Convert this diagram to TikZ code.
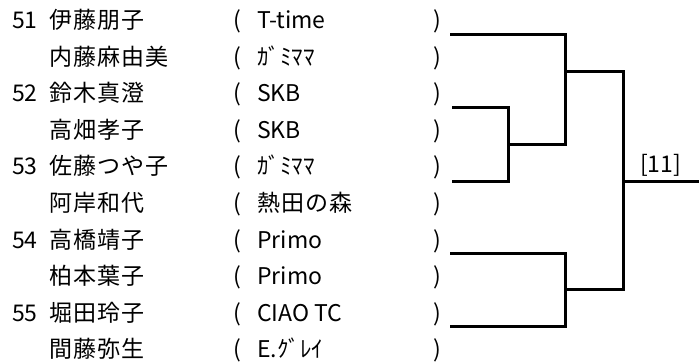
\documentclass[tikz,border=0pt]{standalone}
\usepackage{fontspec}
\setmainfont{Noto Sans CJK JP}
\newfontfamily\namefont{Noto Sans CJK JP}[LetterSpace=5]
\begin{document}
\begin{tikzpicture}[x=1pt,y=-1pt,
    txt/.style={anchor=base west,inner sep=0pt,font=\fontsize{23}{27}\selectfont},
    jp/.style={txt,font=\fontsize{23}{27}\namefont},
    bline/.style={line width=3pt}]
    \useasboundingbox (0,0) rectangle (699,363);

    \node[txt] (n51) at (12,29) {51}; \node[jp] (p1) at (49,29) {伊藤朋子};
    \node[jp] (p2) at (49,66) {内藤麻由美};
    \node[txt] (n52) at (12,102) {52}; \node[jp] (p3) at (49,102) {鈴木真澄};
    \node[jp] (p4) at (49,139) {高畑孝子};
    \node[txt] (n53) at (12,175) {53}; \node[jp] (p5) at (49,175) {佐藤つや子};
    \node[jp] (p6) at (49,212) {阿岸和代};
    \node[txt] (n54) at (12,249) {54}; \node[jp] (p7) at (49,249) {高橋靖子};
    \node[jp] (p8) at (49,285) {柏本葉子};
    \node[txt] (n55) at (12,322) {55}; \node[jp] (p9) at (49,322) {堀田玲子};
    \node[jp] (p10) at (49,358) {間藤弥生};

    \node[txt] (lp1) at (233,29) {(}; \node[txt] (t1) at (257,29) {T-time}; \node[txt] (rp1) at (433,29) {)};
    \node[txt] (lp2) at (233,66) {(}; \node[txt] (t2) at (257,66) {ｶﾞﾐﾏﾏ}; \node[txt] (rp2) at (433,66) {)};
    \node[txt] (lp3) at (233,102) {(}; \node[txt] (t3) at (257,102) {SKB}; \node[txt] (rp3) at (433,102) {)};
    \node[txt] (lp4) at (233,139) {(}; \node[txt] (t4) at (257,139) {SKB}; \node[txt] (rp4) at (433,139) {)};
    \node[txt] (lp5) at (233,175) {(}; \node[txt] (t5) at (257,175) {ｶﾞﾐﾏﾏ}; \node[txt] (rp5) at (433,175) {)};
    \node[txt] (lp6) at (233,212) {(}; \node[jp] (t6) at (257,212) {熱田の森}; \node[txt] (rp6) at (433,212) {)};
    \node[txt] (lp7) at (233,249) {(}; \node[txt] (t7) at (257,249) {Primo}; \node[txt] (rp7) at (433,249) {)};
    \node[txt] (lp8) at (233,285) {(}; \node[txt] (t8) at (257,285) {Primo}; \node[txt] (rp8) at (433,285) {)};
    \node[txt] (lp9) at (233,322) {(}; \node[txt] (t9) at (257,322) {CIAO TC}; \node[txt] (rp9) at (433,322) {)};
    \node[txt] (lp10) at (233,358) {(}; \node[txt] (t10) at (257,358) {E.ｸﾞﾚｲ}; \node[txt] (rp10) at (433,358) {)};

    \coordinate (e1) at (450,35); \coordinate (e2) at (452,108); \coordinate (e3) at (452,182);
    \coordinate (e4) at (450,254); \coordinate (e5) at (450,327);
    \coordinate (q1) at (508,145); \coordinate (s1) at (565,72); \coordinate (s2) at (565,290);
    \coordinate (fin) at (623,182); \coordinate (win) at (699,182);
    \node[txt] (r11) at (640,173) {[11]};

    \draw[bline] (e2) -| (q1) |- (e3);
    \draw[bline] (e1) -| (s1) |- (q1);
    \draw[bline] (e4) -| (s2) |- (e5);
    \draw[bline] (s1) -| (fin) |- (s2);
    \draw[bline] (fin) -- (win);
\end{tikzpicture}
\end{document}
